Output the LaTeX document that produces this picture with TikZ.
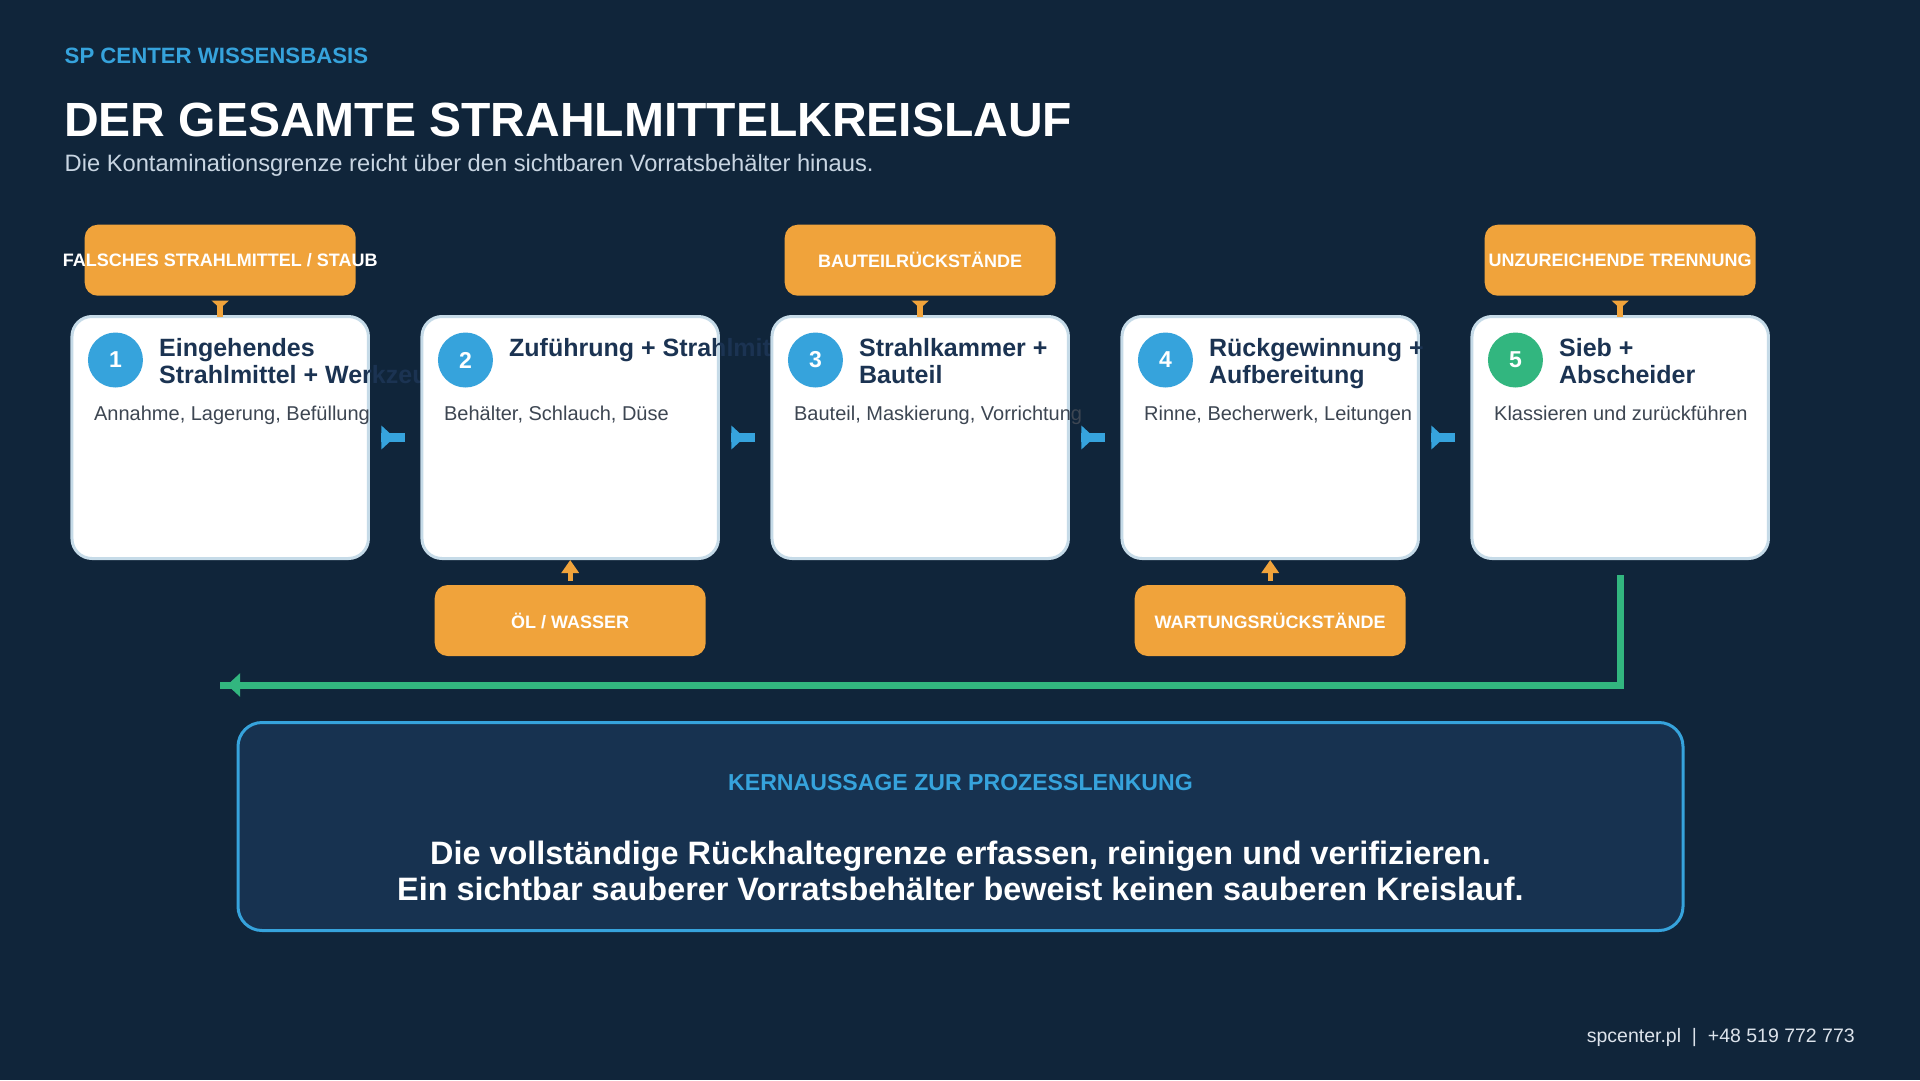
\documentclass[tikz,border=0pt]{standalone}
\usepackage{fontspec}
\setmainfont{Liberation Sans}
\usetikzlibrary{positioning, arrows.meta}

\definecolor{pagebg}{HTML}{10253A}
\definecolor{accentblue}{HTML}{36A3DC}
\definecolor{accentgreen}{HTML}{32B67F}
\definecolor{riskorange}{HTML}{F0A33B}
\definecolor{cardline}{HTML}{C6DBE8}
\definecolor{cardtitle}{HTML}{1B3352}
\definecolor{cardtext}{HTML}{3D4652}
\definecolor{panelfill}{HTML}{173250}
\definecolor{subgray}{HTML}{C8D5E2}
\definecolor{footgray}{HTML}{DCE3EB}

\tikzset{
    stagecard/.style = {draw=cardline, line width=3pt, fill=white, rounded corners=20pt,
        minimum width=296.5pt, minimum height=242pt, inner sep=0pt, outer sep=0pt},
    badge/.style = {circle, fill=accentblue, minimum size=55pt, inner sep=0pt,
        text=white, font=\fontsize{23}{26}\selectfont\bfseries},
    stagetitle/.style = {anchor=north west, inner sep=0pt, align=left, text=cardtitle,
        font=\fontsize{25}{26.6}\selectfont\bfseries},
    stagetext/.style = {anchor=base west, inner sep=0pt, text=cardtext,
        font=\fontsize{20}{24}\selectfont},
    riskbox/.style = {fill=riskorange, rounded corners=13pt, minimum width=271pt,
        minimum height=71pt, inner sep=0pt, outer sep=0pt, text=white,
        font=\fontsize{18}{20}\selectfont\bfseries},
}
\tikzset{
    flowarrow/.style = {accentblue, line width=9pt, shorten <=13pt, shorten >=16.5pt,
        -{Triangle[length=13pt,width=23pt]Rectangle[length=11pt,width=9pt]}},
    feeddown/.style = {riskorange, line width=6pt, shorten <=5pt,
        -{Triangle[length=8pt,width=17pt]Rectangle[length=8pt,width=6pt]}},
    feedup/.style = {riskorange, line width=5pt, shorten <=4pt, shorten >=1.5pt,
        -{Triangle[length=13pt,width=17pt]}},
    returnflow/.style = {accentgreen, line width=7pt,
        -{Triangle[length=13pt,width=23pt]Rectangle[length=7pt,width=7pt]}},
}

\begin{document}
\begin{tikzpicture}[x=1pt, y=-1pt]
    \useasboundingbox (0,0) rectangle (1920,1080);
    \fill[pagebg] (0,0) rectangle (1920,1080);

    % header
    \node[anchor=base west, inner sep=0pt, text=accentblue, font=\fontsize{22.2}{25}\selectfont\bfseries] (kicker) at (64.5,63.3) {SP CENTER WISSENSBASIS};
    \node[anchor=base west, inner sep=0pt, text=white, font=\fontsize{48}{54}\selectfont\bfseries] (headline) at (64,136.7) {DER GESAMTE STRAHLMITTELKREISLAUF};
    \node[anchor=base west, inner sep=0pt, text=subgray, font=\fontsize{23.7}{27}\selectfont] (subline) at (64.5,171.7) {Die Kontaminationsgrenze reicht über den sichtbaren Vorratsbehälter hinaus.};

    % stages
    \node[stagecard] (stage1) at (220.2,437.5) {};
    \node[badge] (badge1) at ([xshift=43.5pt,yshift=-43.5pt]stage1.north west) {1};
    \node[stagetitle] (title1) at ([xshift=87pt,yshift=-22pt]stage1.north west) {Eingehendes\\Strahlmittel + Werkzeug};
    \node[stagetext] (text1) at ([xshift=22pt,yshift=-103.5pt]stage1.north west) {Annahme, Lagerung, Befüllung};

    \node[stagecard] (stage2) at (570.2,437.5) {};
    \node[badge] (badge2) at ([xshift=43.5pt,yshift=-43.5pt]stage2.north west) {2};
    \node[stagetitle] (title2) at ([xshift=87pt,yshift=-22pt]stage2.north west) {Zuführung + Strahlmittel};
    \node[stagetext] (text2) at ([xshift=22pt,yshift=-103.5pt]stage2.north west) {Behälter, Schlauch, Düse};

    \node[stagecard] (stage3) at (920.2,437.5) {};
    \node[badge] (badge3) at ([xshift=43.5pt,yshift=-43.5pt]stage3.north west) {3};
    \node[stagetitle] (title3) at ([xshift=87pt,yshift=-22pt]stage3.north west) {Strahlkammer +\\Bauteil};
    \node[stagetext] (text3) at ([xshift=22pt,yshift=-103.5pt]stage3.north west) {Bauteil, Maskierung, Vorrichtung};

    \node[stagecard] (stage4) at (1270.2,437.5) {};
    \node[badge] (badge4) at ([xshift=43.5pt,yshift=-43.5pt]stage4.north west) {4};
    \node[stagetitle] (title4) at ([xshift=87pt,yshift=-22pt]stage4.north west) {Rückgewinnung +\\Aufbereitung};
    \node[stagetext] (text4) at ([xshift=22pt,yshift=-103.5pt]stage4.north west) {Rinne, Becherwerk, Leitungen};

    \node[stagecard] (stage5) at (1620.2,437.5) {};
    \node[badge, fill=accentgreen] (badge5) at ([xshift=43.5pt,yshift=-43.5pt]stage5.north west) {5};
    \node[stagetitle] (title5) at ([xshift=87pt,yshift=-22pt]stage5.north west) {Sieb +\\Abscheider};
    \node[stagetext] (text5) at ([xshift=22pt,yshift=-103.5pt]stage5.north west) {Klassieren und zurückführen};

    % contamination sources
    \node[riskbox, above=20.8pt of stage1] (risk1) {\makebox[0pt]{FALSCHES STRAHLMITTEL / STAUB}};
    \node[riskbox, above=20.8pt of stage3] (risk3) {BAUTEILRÜCKSTÄNDE};
    \node[riskbox, above=20.8pt of stage5] (risk5) {UNZUREICHENDE TRENNUNG};
    \node[riskbox, below=26.5pt of stage2] (risk2) {ÖL / WASSER};
    \node[riskbox, below=26.5pt of stage4] (risk4) {WARTUNGSRÜCKSTÄNDE};

    \draw[feeddown] (risk1) -- (stage1);
    \draw[feeddown] (risk3) -- (stage3);
    \draw[feeddown] (risk5) -- (stage5);
    \draw[feedup] (risk2) -- (stage2);
    \draw[feedup] (risk4) -- (stage4);

    \draw[flowarrow] (stage1) -- (stage2);
    \draw[flowarrow] (stage2) -- (stage3);
    \draw[flowarrow] (stage3) -- (stage4);
    \draw[flowarrow] (stage4) -- (stage5);

    % return loop
    \coordinate (loopend) at (220.2,685);
    \draw[returnflow] ([yshift=-16.5pt]stage5.south) |- (loopend);

    % key message
    \node[draw=accentblue, line width=3pt, fill=panelfill, rounded corners=24pt, minimum width=1445pt, minimum height=208pt, inner sep=0pt] (panel) at (960.5,826.5) {};
    \node[anchor=base, inner sep=0pt, text=accentblue, font=\fontsize{23.1}{26}\selectfont\bfseries] (paneltitle) at (960.5,790.5) {KERNAUSSAGE ZUR PROZESSLENKUNG};
    \node[anchor=north, inner sep=0pt, align=center, text=white, font=\fontsize{32.4}{36}\selectfont\bfseries] (message) at (960.5,841.2) {Die vollständige Rückhaltegrenze erfassen, reinigen und verifizieren.\\Ein sichtbar sauberer Vorratsbehälter beweist keinen sauberen Kreislauf.};

    % footer
    \node[anchor=base east, inner sep=0pt, text=footgray, font=\fontsize{19.5}{22}\selectfont] (contact) at (1855,1042.3) {spcenter.pl~~|~~+48 519 772 773};
\end{tikzpicture}
\end{document}
